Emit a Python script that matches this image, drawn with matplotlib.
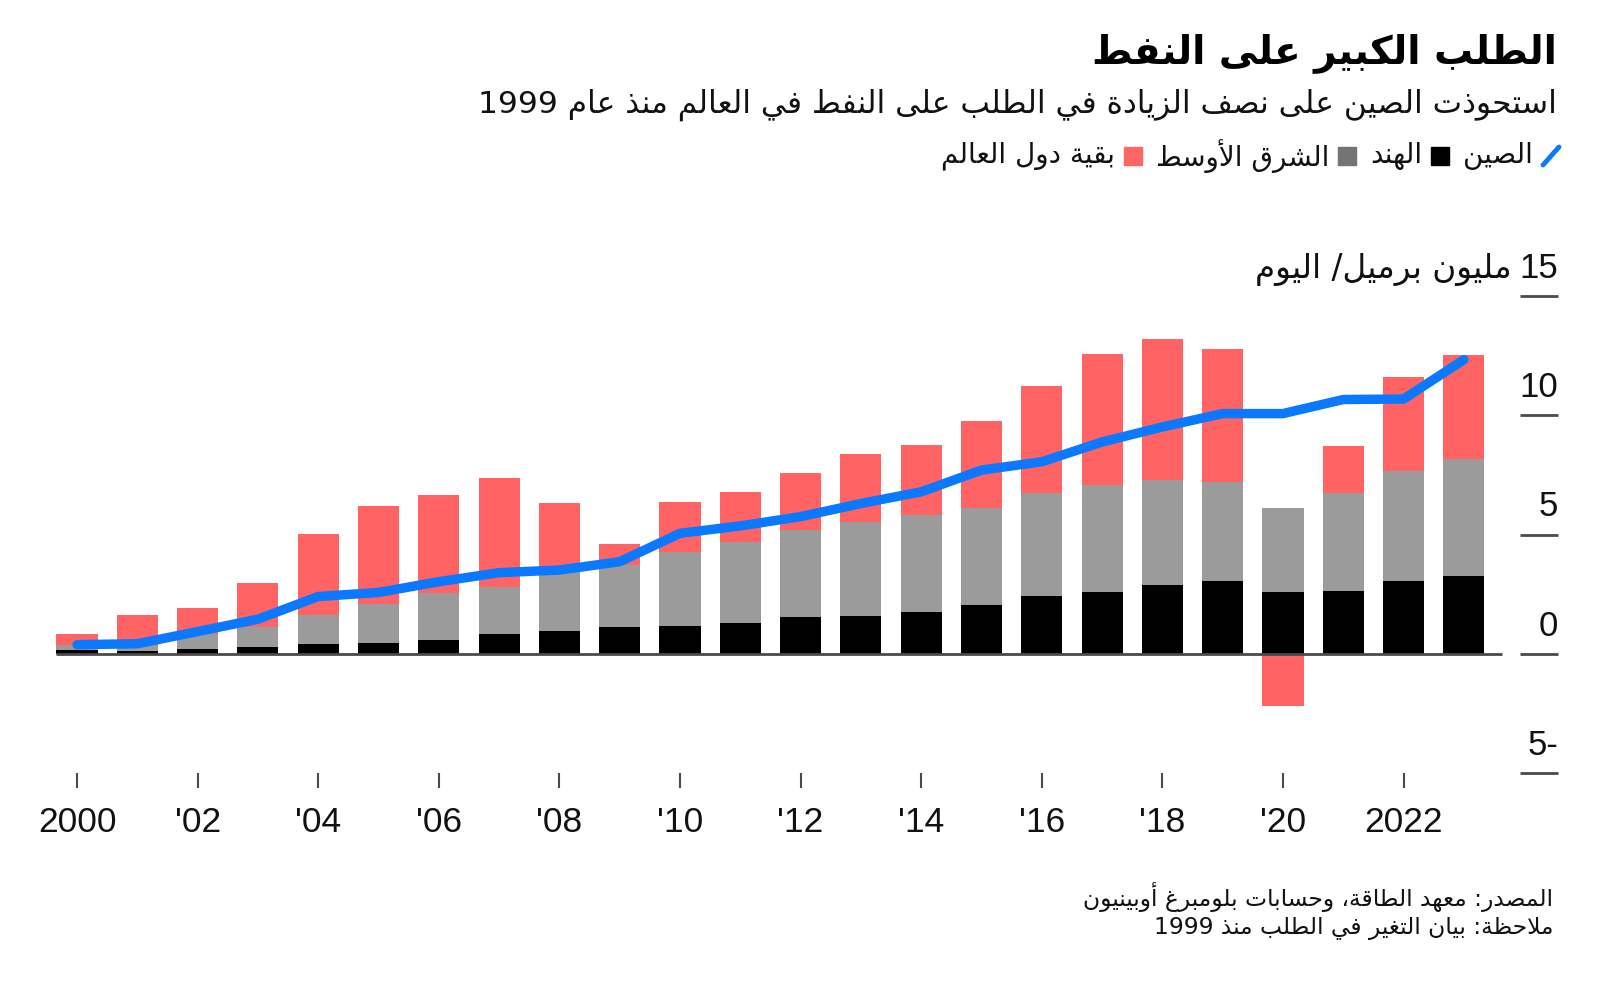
import re
import matplotlib
matplotlib.use("Agg")
import matplotlib.pyplot as plt
import matplotlib.transforms as mtransforms
from matplotlib.patches import Rectangle
from matplotlib.lines import Line2D

# change in oil demand since 1999, million barrels/day
years = list(range(2000, 2024))
china = [0.38, 0.42, 0.93, 1.45, 2.40, 2.57, 3.02, 3.40, 3.51, 3.86, 5.05, 5.36,
         5.75, 6.30, 6.79, 7.70, 8.05, 8.88, 9.51, 10.07, 10.07, 10.66, 10.68, 12.33]
india = [0.14, 0.12, 0.21, 0.28, 0.42, 0.47, 0.59, 0.81, 0.95, 1.13, 1.17, 1.31,
         1.52, 1.58, 1.74, 2.05, 2.43, 2.59, 2.89, 3.03, 2.57, 2.65, 3.07, 3.28]
middle_east = [0.24, 0.24, 0.62, 0.86, 1.20, 1.62, 1.95, 1.98, 2.49, 2.59, 3.08, 3.36,
               3.67, 3.94, 4.08, 4.06, 4.33, 4.48, 4.39, 4.18, 3.55, 4.07, 4.60, 4.88]
rest_world = [0.46, 1.27, 1.09, 1.81, 3.40, 4.09, 4.11, 4.57, 2.88, 0.88, 2.11, 2.11,
              2.37, 2.85, 2.92, 3.64, 4.47, 5.50, 5.90, 5.58, -2.20, 1.98, 3.92, 4.35]

tick_years = [2000, 2002, 2004, 2006, 2008, 2010, 2012, 2014, 2016, 2018, 2020, 2022]
tick_labels = ["2000", "'02", "'04", "'06", "'08", "'10", "'12", "'14", "'16", "'18", "'20", "2022"]
y_ticks = [-5, 0, 5, 10, 15]
y_tick_labels = ["5-", "0", "5", "10", "15"]

title = "الطلب الكبير على النفط"
subtitle = "استحوذت الصين على نصف الزيادة في الطلب على النفط في العالم منذ عام 1999"
unit = "مليون برميل/ اليوم"
legend_names = ["الصين", "الهند", "الشرق الأوسط", "بقية دول العالم"]
source = "المصدر: معهد الطاقة، وحسابات بلومبرغ أوبينيون"
note = "ملاحظة: بيان التغير في الطلب منذ 1999"

BLUE = "#0a78ff"
RED = "#ff6363"
GRAY = "#9b9b9b"
AXIS = "#4a4a4a"
AR_FONT = ["DejaVu Sans"]
NUM_FONT = ["Liberation Sans", "DejaVu Sans"]

# --- minimal arabic shaping (presentation forms) + right-to-left ordering ---
RIGHT = {"آ": 0xFE81, "أ": 0xFE83, "ؤ": 0xFE85, "إ": 0xFE87, "ا": 0xFE8D, "ة": 0xFE93,
         "د": 0xFEA9, "ذ": 0xFEAB, "ر": 0xFEAD, "ز": 0xFEAF, "و": 0xFEED, "ى": 0xFEEF}
DUAL = {"ئ": 0xFE89, "ب": 0xFE8F, "ت": 0xFE95, "ث": 0xFE99, "ج": 0xFE9D, "ح": 0xFEA1,
        "خ": 0xFEA5, "س": 0xFEB1, "ش": 0xFEB5, "ص": 0xFEB9, "ض": 0xFEBD, "ط": 0xFEC1,
        "ظ": 0xFEC5, "ع": 0xFEC9, "غ": 0xFECD, "ف": 0xFED1, "ق": 0xFED5, "ك": 0xFED9,
        "ل": 0xFEDD, "م": 0xFEE1, "ن": 0xFEE5, "ه": 0xFEE9, "ي": 0xFEF1}
LAM_ALEF = {"آ": 0xFEF5, "أ": 0xFEF7, "إ": 0xFEF9, "ا": 0xFEFB}


def shape_arabic(text):
    tokens = []
    i = 0
    while i < len(text):
        if text[i] == "ل" and i + 1 < len(text) and text[i + 1] in LAM_ALEF:
            tokens.append(("lamalef", text[i + 1]))
            i += 2
        else:
            tokens.append(("char", text[i]))
            i += 1

    def joins_fwd(tok):
        return tok[0] == "char" and tok[1] in DUAL

    def joining(tok):
        return tok[0] == "lamalef" or tok[1] in DUAL or tok[1] in RIGHT

    out = []
    for k, tok in enumerate(tokens):
        prev_ok = k > 0 and joins_fwd(tokens[k - 1]) and joining(tok)
        next_ok = joins_fwd(tok) and k + 1 < len(tokens) and joining(tokens[k + 1])
        if tok[0] == "lamalef":
            out.append(chr(LAM_ALEF[tok[1]] + (1 if prev_ok else 0)))
        elif tok[1] in DUAL:
            off = 3 if (prev_ok and next_ok) else 1 if prev_ok else 2 if next_ok else 0
            out.append(chr(DUAL[tok[1]] + off))
        elif tok[1] in RIGHT:
            out.append(chr(RIGHT[tok[1]] + (1 if prev_ok else 0)))
        else:
            out.append(tok[1])
    return "".join(out)


def ar(text):
    vis = shape_arabic(text)[::-1]
    return re.sub(r"[0-9]+", lambda m: m.group(0)[::-1], vis)


W, H = 1600, 1000
fig = plt.figure(figsize=(16, 10), dpi=100)
renderer = fig.canvas.get_renderer()


def fx(px):
    return px / W


def fy(py):
    return 1 - py / H


# plot area: y=-5 at 773px, y=15 at 296px; year 2000 at 77px, 60.3px per year
ax = fig.add_axes([0, fy(773), 1, (773 - 296) / H])
px_year = 60.3
ax.set_xlim(2000 - 77 / px_year, 2000 + (W - 77) / px_year)
ax.set_ylim(-5, 15)

pos_bottom = [0.0] * len(years)
neg_bottom = [0.0] * len(years)
for series, color in [(india, "black"), (middle_east, GRAY), (rest_world, RED)]:
    bottoms = [pb if v >= 0 else nb for v, pb, nb in zip(series, pos_bottom, neg_bottom)]
    ax.bar(years, series, bottom=bottoms, width=0.68, color=color, linewidth=0, zorder=2)
    pos_bottom = [pb + max(v, 0) for v, pb in zip(series, pos_bottom)]
    neg_bottom = [nb + min(v, 0) for v, nb in zip(series, neg_bottom)]

ax.hlines(0, years[0] - 0.35, years[-1] + 0.63, color=AXIS, linewidth=2, zorder=3)
ax.plot(years, china, color=BLUE, linewidth=6.8, solid_capstyle="round",
        solid_joinstyle="round", zorder=4)

# short grid dashes at the right with labels above
gx0, gx1 = years[-1] + 0.93, years[-1] + 1.56
ax.hlines(y_ticks, gx0, gx1, color=AXIS, linewidth=2, clip_on=False)
lab_tr = mtransforms.offset_copy(ax.transData, fig=fig, y=18, units="dots")
for t, lab in zip(y_ticks, y_tick_labels):
    txt = ax.text(gx1, t, lab, transform=lab_tr, ha="right", va="baseline",
                  fontsize=25, family=NUM_FONT, color="#111111")
    if t == y_ticks[-1]:
        w = txt.get_window_extent(renderer).width
        unit_tr = mtransforms.offset_copy(ax.transData, fig=fig, x=-w - 8, y=18, units="dots")
        ax.text(gx1, t, ar(unit), transform=unit_tr, ha="right", va="baseline",
                fontsize=23.5, family=AR_FONT, color="#111111")

ax.set_yticks([])
ax.set_xticks(tick_years)
ax.set_xticklabels(tick_labels, fontsize=25.5, family=NUM_FONT, color="#111111")
ax.tick_params(axis="x", length=10.8, width=1.5, color=AXIS, pad=13, direction="out")
for s in ax.spines.values():
    s.set_visible(False)

# titles
fig.text(fx(1557), fy(53), ar(title), ha="right", va="center", fontsize=28,
         fontweight="bold", family=AR_FONT, color="black")
fig.text(fx(1557), fy(105), ar(subtitle), ha="right", va="center", fontsize=22.5,
         family=AR_FONT, color="#111111")

# legend, laid out right to left
ly = 156
x = 1559
fig.add_artist(Line2D([fx(x - 16), fx(x)], [fy(ly + 9), fy(ly - 9)], color=BLUE,
                      linewidth=3.5, solid_capstyle="round", transform=fig.transFigure))
x -= 26
swatches = [None, "black", "#747474", "#ff6666"]
for name, sw in zip(legend_names, swatches):
    if sw is not None:
        fig.add_artist(Rectangle((fx(x - 18), fy(ly + 9)), 18 / W, 18 / H, color=sw,
                                 transform=fig.transFigure))
        x -= 27
    t = fig.text(fx(x), fy(ly), ar(name), ha="right", va="center", fontsize=20,
                 family=AR_FONT, color="#111111")
    x -= t.get_window_extent(renderer).width + 14

# footer
fig.text(fx(1553), fy(897), ar(source), ha="right", va="center", fontsize=16.8,
         family=AR_FONT, color="#111111")
fig.text(fx(1553), fy(929), ar(note), ha="right", va="center", fontsize=16.8,
         family=AR_FONT, color="#111111")

fig.savefig("out.png", dpi=100, facecolor="white")
